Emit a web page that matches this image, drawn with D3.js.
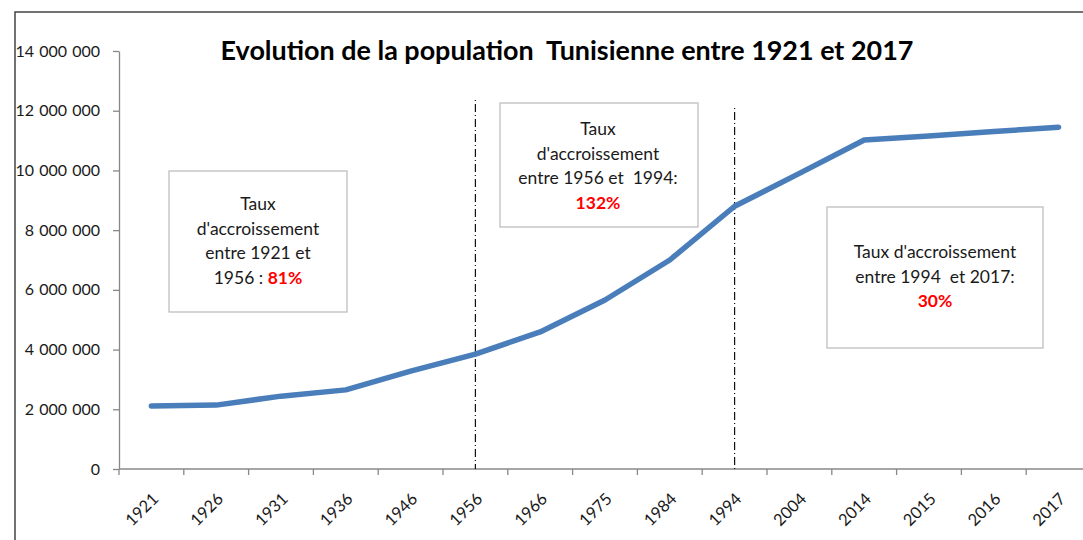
<!DOCTYPE html>
<html>
<head>
<meta charset="utf-8">
<script src="https://cdn.jsdelivr.net/npm/d3@7"></script>
<style>
  html, body { margin: 0; padding: 0; background: #fff; }
  svg { display: block; font-family: Lato, "Open Sans", sans-serif; }
</style>
</head>
<body>
<svg id="chart" width="1083" height="540"></svg>
<script>
const years = ["1921","1926","1931","1936","1946","1956","1966","1975","1984","1994","2004","2014","2015","2016","2017"];
const population = [2110000, 2140000, 2440000, 2650000, 3280000, 3850000, 4590000, 5660000, 7000000, 8800000, 9900000, 11020000, 11150000, 11300000, 11450000];
const yTicks = [0, 2000000, 4000000, 6000000, 8000000, 10000000, 12000000, 14000000];
const markerYears = ["1956", "1994"];
const titleText = "Evolution de la population  Tunisienne entre 1921 et 2017";
const boxes = [
  {lines: ["Taux", "d'accroissement", "entre 1921 et", "1956 : "], pct: "81%", pctInline: true},
  {lines: ["Taux", "d'accroissement", "entre 1956 et  1994:"], pct: "132%", pctInline: false},
  {lines: ["Taux d'accroissement", "entre 1994  et 2017:"], pct: "30%", pctInline: false}
];

const svg = d3.select("#chart");

// outer frame (cropped chart border)
svg.append("path").attr("d", "M15,540 V12 H1083").attr("fill", "none")
  .attr("stroke", "#444").attr("stroke-width", 1.5);

const x = d3.scaleBand().domain(years).range([119, 119 + 15 * 64.8]).paddingInner(0).paddingOuter(0);
const y = d3.scaleLinear().domain([0, 14000000]).range([469, 51]);
const cx = d => x(d) + x.bandwidth() / 2;

// Y axis
const fmt = v => d3.format(",")(v).replace(/,/g, " ");
const yAxis = svg.append("g").attr("transform", "translate(119,0)")
  .call(d3.axisLeft(y).tickValues(yTicks).tickFormat(fmt).tickSize(6).tickSizeOuter(0));
yAxis.select(".domain").attr("stroke", "#888").attr("stroke-width", 1.3);
yAxis.selectAll(".tick line").attr("stroke", "#888").attr("stroke-width", 1.3);
yAxis.selectAll(".tick text").attr("font-size", 16).attr("fill", "#1a1a1a")
  .attr("font-family", "Lato, sans-serif").attr("x", -19).style("word-spacing", "1px");

// X axis
const xAxis = svg.append("g");
const [x0, x1] = x.range();
xAxis.append("line").attr("x1", x0).attr("x2", x1).attr("y1", y(0)).attr("y2", y(0))
  .attr("stroke", "#888").attr("stroke-width", 1.3);
const boundaries = years.map(d => x(d)).concat([x1]);
xAxis.selectAll("line.tk").data(boundaries).join("line").attr("class", "tk")
  .attr("x1", d => d).attr("x2", d => d).attr("y1", y(0)).attr("y2", y(0) + 6)
  .attr("stroke", "#888").attr("stroke-width", 1.3);
xAxis.selectAll("text").data(years).join("text")
  .attr("transform", d => `translate(${cx(d) + 8},${y(0) + 31}) rotate(-45)`)
  .attr("text-anchor", "end").attr("font-size", 16.5).attr("fill", "#1a1a1a")
  .text(d => d);

// vertical dash-dot markers
svg.selectAll("line.marker").data(markerYears).join("line").attr("class", "marker")
  .attr("x1", d => cx(d)).attr("x2", d => cx(d))
  .attr("y1", d => d === "1956" ? 100 : 108).attr("y2", y(0))
  .attr("stroke", "#111").attr("stroke-width", 1.2).attr("stroke-dasharray", "1,3,8,3");

// line
const line = d3.line().x((d, i) => cx(years[i])).y(d => y(d));
svg.append("path").datum(population).attr("d", line).attr("fill", "none")
  .attr("stroke", "#4a7ebb").attr("stroke-width", 5.5)
  .attr("stroke-linecap", "round").attr("stroke-linejoin", "round");

// annotation boxes
const boxGeom = [
  {x: 169, y: 171, w: 178, h: 141, cx: 258, base: 210},
  {x: 500, y: 103, w: 198, h: 124, cx: 598, base: 135},
  {x: 827, y: 207, w: 216, h: 141, cx: 935, base: 258}
];
const lh = 24.5;
const fs = 17.5;
boxes.forEach((b, i) => {
  const g = boxGeom[i];
  svg.append("rect").attr("x", g.x).attr("y", g.y).attr("width", g.w).attr("height", g.h)
    .attr("fill", "#fff").attr("stroke", "#bfbfbf").attr("stroke-width", 1.3);
  b.lines.forEach((ln, j) => {
    const t = svg.append("text").attr("x", g.cx).attr("y", g.base + j * lh)
      .attr("text-anchor", "middle").attr("font-size", fs).attr("fill", "#1a1a1a")
      .style("white-space", "pre");
    t.append("tspan").text(ln);
    if (b.pctInline && j === b.lines.length - 1) {
      t.append("tspan").attr("fill", "#ff0000").attr("font-weight", "bold").text(b.pct);
    }
  });
  if (!b.pctInline) {
    svg.append("text").attr("x", g.cx).attr("y", g.base + b.lines.length * lh)
      .attr("text-anchor", "middle").attr("font-size", fs).attr("font-weight", "bold")
      .attr("fill", "#ff0000").text(b.pct);
  }
});

// title
const title = svg.append("text").attr("x", 567).attr("y", 60).attr("text-anchor", "middle")
  .attr("font-size", 22).attr("font-weight", "bold").attr("fill", "#000")
  .style("white-space", "pre").text(titleText);
const tw = title.node().getComputedTextLength();
title.attr("font-size", 22 * 693 / tw);
</script>
</body>
</html>
